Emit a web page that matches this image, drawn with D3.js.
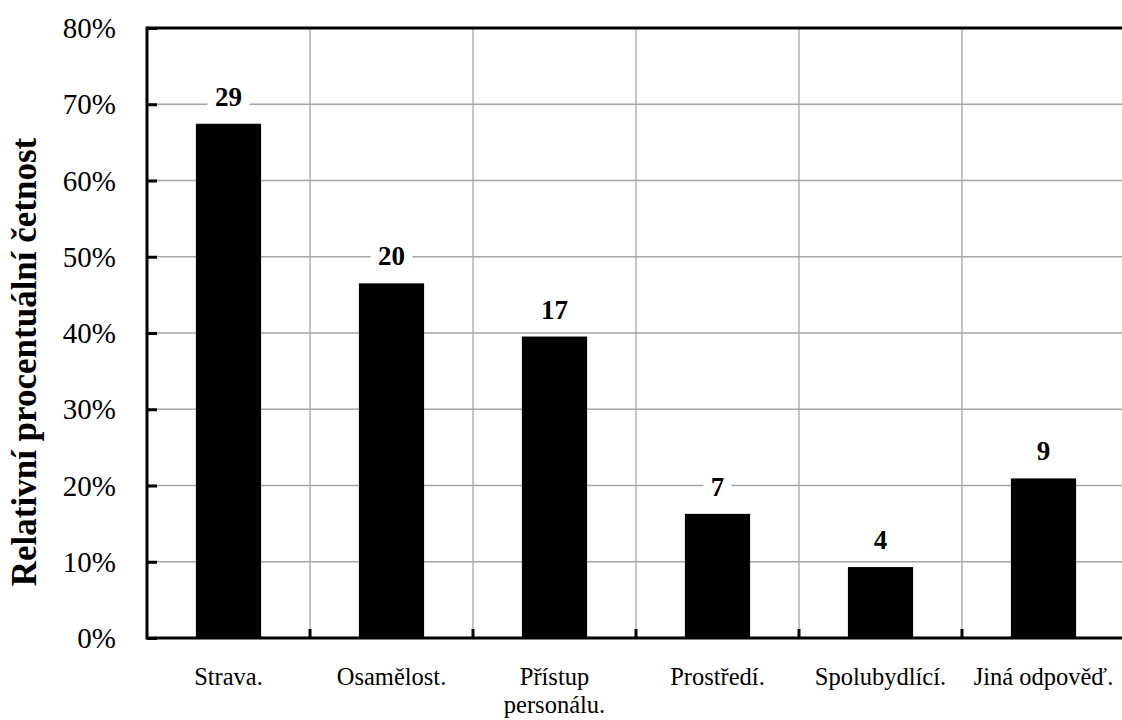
<!DOCTYPE html>
<html>
<head>
<meta charset="utf-8">
<script src="https://cdn.jsdelivr.net/npm/d3@7"></script>
<style>
  html, body { margin: 0; padding: 0; background: #fff; }
  svg { display: block; }
</style>
</head>
<body>
<svg id="chart" width="1122" height="720"></svg>
<script>
// Důvody nespokojenosti respondentů (n = 43)
const categories = ["Strava.", "Osamělost.", "Přístup personálu.", "Prostředí.", "Spolubydlící.", "Jiná odpověď."];
const categoryLines = [["Strava."], ["Osamělost."], ["Přístup", "personálu."], ["Prostředí."], ["Spolubydlící."], ["Jiná odpověď."]];
const counts = [29, 20, 17, 7, 4, 9];
const totalRespondents = 43;
const yTicks = [0, 0.1, 0.2, 0.3, 0.4, 0.5, 0.6, 0.7, 0.8];
const yTitle = "Relativní procentuální četnost";

const shares = counts.map(c => c / totalRespondents);

const svg = d3.select("#chart");
const font = "'Liberation Serif', 'Times New Roman', serif";

const plotLeft = 147, plotRight = 1125, plotTop = 28, plotBottom = 638;

const x = d3.scaleBand()
  .domain(categories)
  .range([plotLeft, plotRight])
  .paddingInner(0.6)
  .paddingOuter(0.3);

const y = d3.scaleLinear().domain([0, 0.8]).range([plotBottom, plotTop]);

const step = x.step();
const gridColor = "#a6a6a6";

// horizontal gridlines
svg.append("g")
  .selectAll("line")
  .data(yTicks.filter(t => t > 0 && t < 0.8))
  .join("line")
  .attr("x1", plotLeft).attr("x2", plotRight)
  .attr("y1", d => y(d)).attr("y2", d => y(d))
  .attr("stroke", gridColor).attr("stroke-width", 1.3);

// vertical gridlines at category boundaries
const boundaries = categories.slice(1).map(c => x(c) - (step - x.bandwidth()) / 2);
boundaries.push(plotRight);
svg.append("g")
  .selectAll("line")
  .data(boundaries)
  .join("line")
  .attr("x1", d => d).attr("x2", d => d)
  .attr("y1", plotTop).attr("y2", plotBottom)
  .attr("stroke", gridColor).attr("stroke-width", 1.3);

// bars
svg.append("g")
  .selectAll("rect")
  .data(categories)
  .join("rect")
  .attr("x", d => x(d))
  .attr("width", x.bandwidth())
  .attr("y", (d, i) => y(shares[i]))
  .attr("height", (d, i) => y(0) - y(shares[i]))
  .attr("fill", "#000");

// value labels with white backing
const labels = svg.append("g")
  .selectAll("g")
  .data(categories)
  .join("g")
  .attr("transform", (d, i) => `translate(${x(d) + x.bandwidth() / 2},${y(shares[i]) - 18})`);
labels.append("rect")
  .attr("x", (d, i) => -String(counts[i]).length * 7 - 7)
  .attr("width", (d, i) => String(counts[i]).length * 14 + 14)
  .attr("y", -24).attr("height", 30)
  .attr("fill", "#fff");
labels.append("text")
  .attr("text-anchor", "middle")
  .attr("font-family", font)
  .attr("font-weight", "bold")
  .attr("font-size", 27)
  .text((d, i) => counts[i]);

// frame: left axis, top border, bottom axis
svg.append("line").attr("x1", plotLeft).attr("x2", plotLeft).attr("y1", plotTop - 1.5).attr("y2", plotBottom + 1.5)
  .attr("stroke", "#000").attr("stroke-width", 3);
svg.append("line").attr("x1", plotLeft).attr("x2", 1122).attr("y1", plotTop).attr("y2", plotTop)
  .attr("stroke", "#000").attr("stroke-width", 3);
svg.append("line").attr("x1", plotLeft).attr("x2", 1122).attr("y1", plotBottom).attr("y2", plotBottom)
  .attr("stroke", "#000").attr("stroke-width", 3);

// y axis ticks and labels
const yAxis = d3.axisRight(y)
  .tickValues(yTicks)
  .tickSize(10)
  .tickFormat(d3.format(".0%"));
const yg = svg.append("g").attr("transform", `translate(${plotLeft},0)`).call(yAxis);
yg.select(".domain").remove();
yg.selectAll(".tick line").attr("stroke", "#000").attr("stroke-width", 3);
yg.selectAll(".tick text")
  .attr("x", 116 - plotLeft)
  .attr("text-anchor", "end")
  .attr("font-family", font)
  .attr("font-size", 29)
  .attr("fill", "#000")
  .attr("dy", "0.33em");

// x axis tick marks at category boundaries
svg.append("g")
  .selectAll("line")
  .data(boundaries.slice(0, -1))
  .join("line")
  .attr("x1", d => d).attr("x2", d => d)
  .attr("y1", plotBottom).attr("y2", plotBottom - 9)
  .attr("stroke", "#000").attr("stroke-width", 3);

// category labels
const catText = svg.append("g")
  .selectAll("text")
  .data(categories)
  .join("text")
  .attr("x", d => x(d) + x.bandwidth() / 2)
  .attr("y", 685)
  .attr("text-anchor", "middle")
  .attr("font-family", font)
  .attr("font-size", 24.5)
  .attr("fill", "#000");
catText.selectAll("tspan")
  .data((d, i) => categoryLines[i])
  .join("tspan")
  .attr("x", function () { return this.parentNode.getAttribute("x"); })
  .attr("dy", (d, j) => j === 0 ? 0 : 28)
  .text(d => d);

// y axis title
svg.append("text")
  .attr("transform", "translate(36,362) rotate(-90)")
  .attr("text-anchor", "middle")
  .attr("font-family", font)
  .attr("font-weight", "bold")
  .attr("font-size", 35)
  .attr("fill", "#000")
  .text(yTitle);
</script>
</body>
</html>
